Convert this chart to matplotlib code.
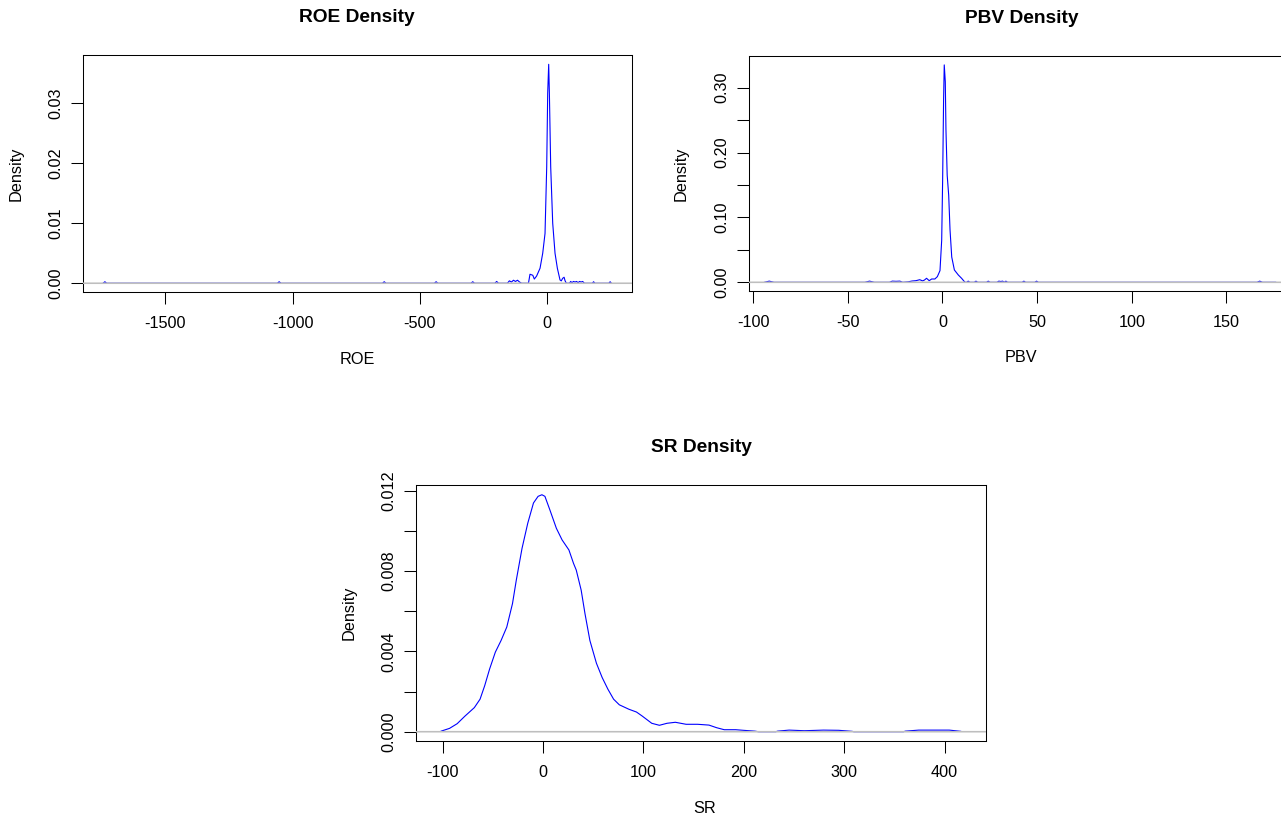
import matplotlib
matplotlib.use("Agg")
import matplotlib.pyplot as plt

plt.rcParams['font.family'] = ['Liberation Sans', 'DejaVu Sans']

# ---------------- data ----------------
roe_x = [-1745, -1738, -1731,
         -1060, -1053, -1046,
         -647, -640, -633,
         -443, -436, -429,
         -299, -292, -285,
         -205, -198, -191,
         -156, -148, -140, -132, -124, -116, -108, -100,
         -78, -73, -67, -56, -50, -41, -27.5, -17, -7.9,
         -1.3, 2.6, 6.5, 9.2, 14.4, 22.3, 31.4, 40.6,
         51, 56, 61.6, 67, 71, 76,
         88, 93, 98, 104, 110, 116, 122, 128, 134, 140, 147,
         178, 183, 188,
         243, 248, 253]
roe_y = [0, 0.00025, 0,
         0, 0.00025, 0,
         0, 0.00025, 0,
         0, 0.00025, 0,
         0, 0.00025, 0,
         0, 0.0003, 0,
         0, 0.0004, 0.0002, 0.0005, 0.0003, 0.0005, 0.0002, 0,
         0, 0, 0.0015, 0.00133, 0.0007, 0.0012, 0.0025, 0.0050, 0.0083,
         0.0194, 0.0317, 0.0365, 0.0317, 0.0194, 0.0100, 0.0050, 0.0025,
         0.00055, 0.0004, 0.00083, 0.0010, 0.0004, 0,
         0, 0.0003, 0.0001, 0.0003, 0.0002, 0.0003, 0.0001, 0.0003, 0.0002, 0.0003, 0,
         0, 0.00025, 0,
         0, 0.00025, 0]

pbv_x = [-94, -91.5, -89,
         -41, -38.5, -36,
         -28, -26.5, -24.5, -22.5, -21,
         -18, -16, -14, -12, -10.5, -9.5,
         -8.4, -7.0, -5.7, -4.0, -2.7, -1.3, -0.4, 0.1, 0.6, 0.95, 1.5,
         1.85, 2.5, 3.3, 4.0, 4.9, 6.3, 8.4, 10.1, 11.9,
         12.8, 13.6, 14.5,
         16.8, 17.7, 18.6,
         23.3, 24.2, 25.1,
         28.8, 29.8, 30.8, 31.8, 32.6, 33.5, 34.4,
         42.1, 43.0, 43.9,
         48.8, 49.7, 50.6,
         166.2, 167.6, 169.0, 176]
pbv_y = [0, 0.0018, 0,
         0, 0.0018, 0,
         0, 0.0018, 0.0015, 0.0018, 0,
         0.0008, 0.0020, 0.0025, 0.0040, 0.0022, 0.0035,
         0.0062, 0.0025, 0.0051, 0.0051, 0.0087, 0.018, 0.065, 0.158, 0.281, 0.335, 0.309,
         0.235, 0.165, 0.134, 0.081, 0.039, 0.019, 0.0112, 0.0062, 0.0,
         0, 0.0018, 0,
         0, 0.0018, 0,
         0, 0.0018, 0,
         0, 0.0018, 0.0012, 0.0018, 0, 0.0018, 0,
         0, 0.0018, 0,
         0, 0.0018, 0,
         0, 0.0018, 0, 0]

sr_x = [-101.4, -93.1, -85.5, -77.9, -68.4, -62.7, -58.1, -53.2, -47.5, -41.8,
        -36.1, -30.4, -26.6, -20.9, -15.2, -9.5, -4.9, -1.1, 1.9, 6.8,
        13.3, 19.0, 25.8, 30.4, 33.1, 38.0, 41.8, 46.7, 53.2, 58.9,
        64.6, 70.3, 76.0, 85.5, 93.1, 98.8, 108.3, 115.9, 123.5, 131.8,
        142.5, 153.9, 165.3, 172.9, 180.5, 191.9, 199.5, 210.9, 214.7, 231.8,
        233.7, 245.1, 260.3, 279.3, 294.5, 307.8, 309.7, 359.0, 361.0, 374.2,
        404.6, 416.0]
sr_y = [0.00003, 0.000167, 0.0004, 0.00077, 0.0012, 0.00162, 0.00229, 0.00312, 0.00396, 0.00454,
        0.00521, 0.00638, 0.00755, 0.00913, 0.01038, 0.01139, 0.01172, 0.0118, 0.01172, 0.01105,
        0.01013, 0.00955, 0.00905, 0.00838, 0.00805, 0.00705, 0.00588, 0.00454, 0.00341, 0.0027,
        0.00212, 0.00162, 0.00134, 0.00112, 0.00098, 0.00078, 0.00042, 0.00032, 0.00042, 0.00047,
        0.00037, 0.00037, 0.00033, 0.0002, 0.0001, 0.0001, 0.00007, 0.00003, 0, 0,
        0.00003, 0.00008, 0.00005, 0.00008, 0.00007, 0.00002, 0, 0, 0.00003, 0.00008,
        0.00008, 0.00002]

roe_xticks = [-1500, -1000, -500, 0]
pbv_xticks = [-100, -50, 0, 50, 100, 150]
sr_xticks = [-100, 0, 100, 200, 300, 400]
roe_yticks = [0.00, 0.01, 0.02, 0.03]
roe_ylabels = ["0.00", "0.01", "0.02", "0.03"]
pbv_yticks = [0.00, 0.05, 0.10, 0.15, 0.20, 0.25, 0.30]
pbv_ylabels = ["0.00", "", "0.10", "", "0.20", "", "0.30"]
sr_yticks = [0.000, 0.002, 0.004, 0.006, 0.008, 0.010, 0.012]
sr_ylabels = ["0.000", "", "0.004", "", "0.008", "", "0.012"]

# ---------------- layout ----------------
W, H = 1281, 818
fig = plt.figure(figsize=(W / 100, H / 100), dpi=100)
fig.patch.set_facecolor('white')


def px_axes(x0, y0, x1, y1):
    return fig.add_axes([x0 / W, 1 - y1 / H, (x1 - x0) / W, (y1 - y0) / H])


def ftext(x, y, s, **kw):
    fig.text(x / W, 1 - y / H, s, ha='center', va='center', **kw)


panels = [
    dict(box=(83, 55.3, 631.5, 292), x=roe_x, y=roe_y, xlim=(-1824, 332), ylim=(-0.00146, 0.038),
         xt=roe_xticks, yt=roe_yticks, yl=roe_ylabels, title="ROE Density", xlabel="ROE"),
    dict(box=(748.6, 56.2, 1294, 291), x=pbv_x, y=pbv_y, xlim=(-102.4, 185.7), ylim=(-0.0134, 0.3484),
         xt=pbv_xticks, yt=pbv_yticks, yl=pbv_ylabels, title="PBV Density", xlabel="PBV"),
    dict(box=(416, 485.3, 986, 741.2), x=sr_x, y=sr_y, xlim=(-126.5, 441.2), ylim=(-0.000472, 0.01227),
         xt=sr_xticks, yt=sr_yticks, yl=sr_ylabels, title="SR Density", xlabel="SR"),
]

for p in panels:
    x0, y0, x1, y1 = p['box']
    ax = px_axes(x0, y0, x1, y1)
    ax.plot(p['x'], p['y'], color='#0000FF', lw=0.8, zorder=2, snap=False)
    ax.axhline(0, color='#BEBEBE', lw=1.15, zorder=3, snap=False)
    ax.set_xlim(*p['xlim'])
    ax.set_ylim(*p['ylim'])
    ax.set_xticks(p['xt'])
    ax.set_xticklabels([str(v) for v in p['xt']])
    ax.set_yticks(p['yt'])
    ax.set_yticklabels(p['yl'])
    for lab in ax.get_yticklabels():
        lab.set_rotation(90)
        lab.set_va('center')
    ax.tick_params(axis='both', direction='out', length=8.3, width=0.75, color='black',
                   labelsize=11.7, labelcolor='black')
    ax.tick_params(axis='x', pad=9.0)
    ax.tick_params(axis='y', pad=5.5)
    for s in ax.spines.values():
        s.set_color('black')
        s.set_linewidth(0.75)
    ax.set_facecolor('white')
    cx = (x0 + x1) / 2
    cy = (y0 + y1) / 2
    ftext(cx, y0 - 37.5, p['title'], fontsize=13.8, fontweight='bold')
    ftext(cx + (4 if p['xlabel'] == "SR" else 0), y1 + 67, p['xlabel'], fontsize=11.7)
    ftext(x0 - 67, cy, "Density", fontsize=11.7, rotation=90)

fig.savefig("out.png", dpi=100, facecolor='white')
